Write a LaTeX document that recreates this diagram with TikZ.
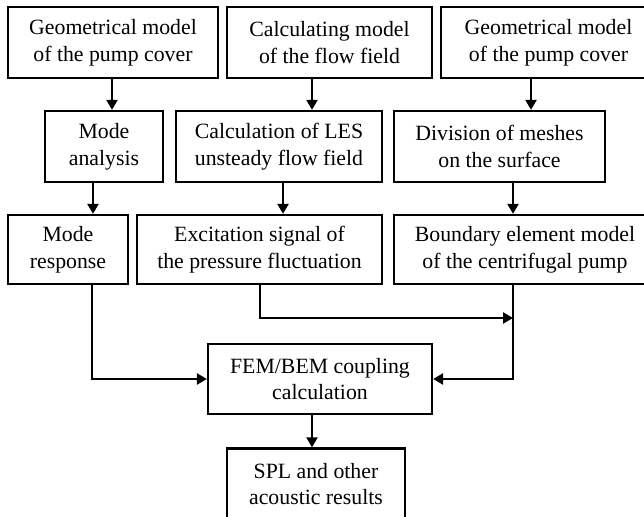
\documentclass[tikz,border=0pt]{standalone}
\usepackage{fontspec}
\setmainfont{Liberation Serif}
\usetikzlibrary{arrows.meta,positioning,calc}

\begin{document}
\begin{tikzpicture}[
  x=0.02cm, y=-0.02cm,
  blk/.style={draw, line width=1.3pt, minimum height=1.42cm, inner sep=0pt, align=center, font=\fontsize{12.4}{15.3}\selectfont},
  arr/.style={-{Triangle[length=2mm, width=2.2mm]}, line width=1.3pt},
]
\useasboundingbox (0,0) rectangle (644,516);

% Top row
\node[blk, minimum width=4.2cm] (geo1) at (113, 42.5) {Geometrical model\\of the pump cover};
\node[blk, minimum width=4.1cm] (flow) at (329.5, 42.5) {Calculating model\\of the flow field};
\node[blk, minimum width=4.3cm] (geo2) at (548.5, 42.5) {Geometrical model\\of the pump cover};

% Second row
\node[blk, minimum width=2.36cm] (mode) at (104, 146.5) {Mode\\analysis};
\node[blk, minimum width=4.12cm] (les) at (279, 146.5) {Calculation of LES\\unsteady flow field};
\node[blk, minimum width=4.22cm] (mesh) at (499.5, 146.5) {Division of meshes\\on the surface};

% Third row
\node[blk, minimum width=2.4cm, minimum height=1.38cm] (resp) at (68, 249.5) {Mode\\response};
\node[blk, minimum width=4.9cm, minimum height=1.38cm] (exc) at (259.5, 249.5) {Excitation signal of\\the pressure fluctuation};
\node[blk, minimum width=5.24cm, minimum height=1.38cm] (bem) at (525, 249.5) {Boundary element model\\of the centrifugal pump};

% Coupling and results
\node[blk, minimum width=4.48cm, minimum height=1.4cm] (fem) at (320, 379) {FEM/BEM coupling\\calculation};
\node[blk, minimum width=3.56cm] (spl) at (316, 484) {SPL and other\\acoustic results};

\coordinate (join) at (513, 318);

% Arrows
\draw[arr] (geo1.south -| 112,0) -- (mode.north -| 112,0);
\draw[arr] (flow.south -| 312,0) -- (les.north -| 312,0);
\draw[arr] (geo2.south -| 531,0) -- (mesh.north -| 531,0);
\draw[arr] (mode.south -| 93,0) -- (resp.north -| 93,0);
\draw[arr] (les.south -| 283,0) -- (exc.north -| 283,0);
\draw[arr] (mesh.south -| 513,0) -- (bem.north -| 513,0);
\draw[arr] (exc.south -| 260,0) |- (join);
\draw[arr] (bem.south -| 513,0) |- (fem.east);
\draw[arr] (resp.south -| 92,0) |- (fem.west);
\draw[arr] (fem.south -| 312,0) -- (spl.north -| 312,0);

\end{tikzpicture}
\end{document}
